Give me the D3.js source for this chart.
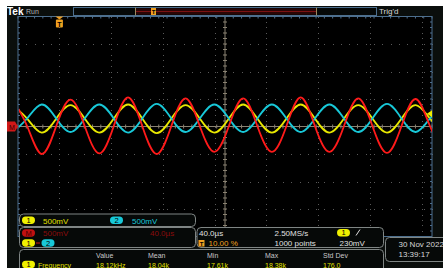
<!DOCTYPE html>
<html>
<head>
<meta charset="utf-8">
<script src="https://cdn.jsdelivr.net/npm/d3@7"></script>
<style>
  body { margin: 0; background: #fff; }
  svg { display: block; font-family: "Liberation Sans", Arial, sans-serif; }
</style>
</head>
<body>
<script>
// sample times (µs, quarter periods)
const timesUs = [-44.9, -31.0, -17.1, -3.2, 10.7, 24.6, 38.5, 52.4, 66.3, 80.2, 94.1, 108.0,
  121.9, 135.8, 149.7, 163.6, 177.5, 191.4, 205.3, 219.2, 233.1, 247.0, 260.9, 274.8,
  288.7, 302.6, 316.5, 330.4, 344.3, 358.2, 372.1];
// volts at those times
const ch1 = [0.38, 0.14, -0.11, 0.14, 0.39, 0.14, -0.11, 0.14, 0.40, 0.14, -0.12, 0.14,
  0.39, 0.14, -0.11, 0.14, 0.40, 0.14, -0.11, 0.14, 0.40, 0.14, -0.11, 0.14,
  0.39, 0.14, -0.11, 0.14, 0.39, 0.14, -0.11];
const ch2 = [-0.10, 0.15, 0.40, 0.15, -0.10, 0.15, 0.40, 0.15, -0.11, 0.15, 0.41, 0.15,
  -0.10, 0.15, 0.40, 0.15, -0.10, 0.15, 0.40, 0.15, -0.10, 0.15, 0.40, 0.15,
  -0.10, 0.15, 0.41, 0.15, -0.10, 0.15, 0.40];
const math = [0.48, 0, -0.50, 0, 0.49, 0, -0.49, 0, 0.53, 0, -0.50, 0,
  0.51, 0, -0.46, 0, 0.51, 0, -0.46, 0, 0.53, 0, -0.46, 0,
  0.51, 0, -0.48, 0, 0.50, 0, -0.48];

const measHeaders = ["Value", "Mean", "Min", "Max", "Std Dev"];
const measValues = ["18.12kHz", "18.04k", "17.61k", "18.38k", "176.0"];
const measX = [96, 148, 207, 265, 323];

const W = 443, H = 268;
const svg = d3.select("body").append("svg").attr("width", W).attr("height", H);

// backgrounds
svg.append("rect").attr("x", 7).attr("y", 6).attr("width", W - 7).attr("height", H - 6).attr("fill", "#0a0e0c");
const L = 18, R = 432, T = 16.5, B = 236.5;
svg.append("rect").attr("x", L).attr("y", T).attr("width", R - L).attr("height", B - T).attr("fill", "#000");

const x = d3.scaleLinear().domain([-40, 360]).range([L, R]);
const y = d3.scaleLinear().domain([-2, 2]).range([B, T]);

// dotted graticule
const g = svg.append("g");
const minorT = d3.range(-40, 360.1, 8);
const minorV = d3.range(-2, 2.01, 0.1);
x.ticks(10).forEach(t => {
  if (t === -40 || t === 360 || t === 160) return;
  minorV.forEach(v => g.append("rect").attr("x", Math.round(x(t))).attr("y", Math.round(y(v))).attr("width", 1).attr("height", 1).attr("fill", "#5a5a5a"));
});
y.ticks(8).forEach(v => {
  if (Math.abs(v) > 1.99 || v === 0) return;
  minorT.forEach(t => g.append("rect").attr("x", Math.round(x(t))).attr("y", Math.round(y(v))).attr("width", 1).attr("height", 1).attr("fill", "#5a5a5a"));
});
// center cross with ticks
const cc = "#8a8272";
g.append("line").attr("x1", L).attr("x2", R).attr("y1", y(0)).attr("y2", y(0)).attr("stroke", cc);
g.append("line").attr("x1", x(160)).attr("x2", x(160)).attr("y1", T).attr("y2", B).attr("stroke", cc);
minorT.forEach(t => g.append("line").attr("x1", x(t)).attr("x2", x(t)).attr("y1", y(0) - 2).attr("y2", y(0) + 2).attr("stroke", cc));
minorV.forEach(v => g.append("line").attr("x1", x(160) - 2).attr("x2", x(160) + 2).attr("y1", y(v)).attr("y2", y(v)).attr("stroke", cc));
// border ticks
const bc = "#4d6f8e";
minorT.forEach(t => {
  g.append("line").attr("x1", x(t)).attr("x2", x(t)).attr("y1", T).attr("y2", T + 2).attr("stroke", bc);
});
minorV.forEach(v => {
  g.append("line").attr("x1", R - 2).attr("x2", R).attr("y1", y(v)).attr("y2", y(v)).attr("stroke", bc);
  g.append("line").attr("x1", L).attr("x2", L + 2).attr("y1", y(v)).attr("y2", y(v)).attr("stroke", bc);
});
g.append("rect").attr("x", L).attr("y", T).attr("width", R - L).attr("height", B - T)
  .attr("fill", "none").attr("stroke", bc);

// traces
svg.append("clipPath").attr("id", "plot").append("rect").attr("x", L + 1).attr("y", T).attr("width", R - L - 1).attr("height", B - T);
const line = vals => d3.line().x((d, i) => x(timesUs[i])).y(d => y(d)).curve(d3.curveNatural)(vals);
const tr = svg.append("g").attr("clip-path", "url(#plot)");
tr.append("path").attr("d", line(ch1)).attr("fill", "none").attr("stroke", "#e8e800").attr("stroke-width", 1.8);
tr.append("path").attr("d", line(ch2)).attr("fill", "none").attr("stroke", "#18c8d8").attr("stroke-width", 1.8);
tr.append("path").attr("d", line(math)).attr("fill", "none").attr("stroke", "#ff1a1a").attr("stroke-width", 1.8);

// header
svg.append("text").attr("x", 7).attr("y", 14.5).attr("fill", "#fff").attr("font-weight", "bold").attr("font-size", 10).text("Tek");
svg.append("text").attr("x", 26).attr("y", 14).attr("fill", "#b0b0b0").attr("font-size", 7).text("Run");
svg.append("rect").attr("x", 73.5).attr("y", 7.5).attr("width", 303).attr("height", 8).attr("fill", "#050807").attr("stroke", "#4d6f8e");
svg.append("rect").attr("x", 135).attr("y", 8.5).attr("width", 181).attr("height", 6).attr("fill", "#2a0606");
svg.append("line").attr("x1", 135).attr("x2", 316).attr("y1", 11.5).attr("y2", 11.5).attr("stroke", "#7a1212");
[135, 316].forEach(px => svg.append("line").attr("x1", px + 0.5).attr("x2", px + 0.5).attr("y1", 7.5).attr("y2", 15.5).attr("stroke", "#9a8a60"));
svg.append("rect").attr("x", 151).attr("y", 8).attr("width", 5).attr("height", 7).attr("fill", "#f0a020");
svg.append("text").attr("x", 153.5).attr("y", 14).attr("text-anchor", "middle").attr("font-size", 6).attr("font-weight", "bold").attr("fill", "#000").text("T");
svg.append("text").attr("x", 379).attr("y", 14).attr("fill", "#d8d8d8").attr("font-size", 8).text("Trig'd");

// trigger position marker
const tx = x(0);
svg.append("path").attr("d", `M${tx - 4},${T} L${tx + 4},${T} L${tx},${T + 3} Z`).attr("fill", "#f0a020");
svg.append("rect").attr("x", tx - 3.5).attr("y", T + 3).attr("width", 7).attr("height", 8).attr("rx", 1).attr("fill", "#f0a020");
svg.append("text").attr("x", tx).attr("y", T + 10).attr("text-anchor", "middle").attr("font-size", 7).attr("font-weight", "bold").attr("fill", "#000").text("T");

// math ground marker
const my = y(0);
svg.append("path").attr("d", `M7,${my - 5} L15,${my - 5} L18,${my} L15,${my + 5} L7,${my + 5} Z`).attr("fill", "#d01818");
svg.append("text").attr("x", 12).attr("y", my + 3).attr("text-anchor", "middle").attr("font-size", 7).attr("fill", "#300").text("M");
// trigger level marker
const ty = y(0.23);
svg.append("path").attr("d", `M${R - 5},${ty} L${R},${ty - 3.5} L${R},${ty + 3.5} Z`).attr("fill", "#f0f000");

// panels
const panel = (px, py, pw, ph) => svg.append("rect").attr("x", px + 0.5).attr("y", py + 0.5).attr("width", pw).attr("height", ph)
  .attr("rx", 4).attr("fill", "#060908").attr("stroke", "#7f8584");
const pill = (cx, cy, fill, label, col) => {
  svg.append("rect").attr("x", cx - 6.5).attr("y", cy - 3.7).attr("width", 13).attr("height", 7.4).attr("rx", 3.7).attr("fill", fill);
  svg.append("text").attr("x", cx).attr("y", cy + 2.6).attr("text-anchor", "middle").attr("font-size", 7.5).attr("fill", col || "#000").text(label);
};
const txt = (tx0, ty0, s, col, fs) => svg.append("text").attr("x", tx0).attr("y", ty0).attr("fill", col).attr("font-size", fs || 8).text(s);

panel(19, 213.5, 176, 12.5);
pill(28.5, 220.3, "#f0f000", "1");
txt(43, 223.5, "500mV", "#e0e000");
pill(116.5, 220.3, "#18c8d8", "2");
txt(132, 223.5, "500mV", "#18c8d8");

panel(19, 227, 176, 20);
pill(28.5, 233, "#c01010", "M", "#400");
txt(43, 236, "500mV", "#8a0c0c");
txt(150, 236, "40.0µs", "#8a0c0c");
pill(28.5, 243, "#f0f000", "1");
svg.append("line").attr("x1", 36).attr("x2", 40).attr("y1", 243).attr("y2", 243).attr("stroke", "#d01818");
pill(48, 243, "#18c8d8", "2");

panel(196.5, 227, 186.5, 20);
txt(199, 236, "40.0µs", "#e0e0e0");
txt(274.5, 236, "2.50MS/s", "#e0e0e0");
pill(343.5, 232.7, "#f0f000", "1");
svg.append("line").attr("x1", 356).attr("x2", 360).attr("y1", 235.5).attr("y2", 229.5).attr("stroke", "#e0e0e0");
svg.append("rect").attr("x", 198.5).attr("y", 240).attr("width", 6).attr("height", 6.5).attr("fill", "#f0a020");
svg.append("text").attr("x", 201.5).attr("y", 245.5).attr("text-anchor", "middle").attr("font-size", 6).attr("font-weight", "bold").attr("fill", "#000").text("T");
txt(208.5, 246, "10.00 %", "#f0a020");
txt(274.5, 246, "1000 points", "#e0e0e0");
txt(339.5, 246, "230mV", "#e0e0e0");

panel(385, 237, 62, 24);
txt(398.5, 246.5, "30 Nov 2022", "#d8d8d8");
txt(398.5, 256.5, "13:39:17", "#d8d8d8");

panel(19, 249, 364, 30);
measHeaders.forEach((h, i) => txt(measX[i], 257.5, h, "#c8c8c8", 7));
pill(28.5, 264.5, "#f0f000", "1");
txt(38, 268, "Frequency", "#e0e000", 7);
measValues.forEach((v, i) => txt(measX[i], 268, v, "#e0e000", 7));
</script>
</body>
</html>
